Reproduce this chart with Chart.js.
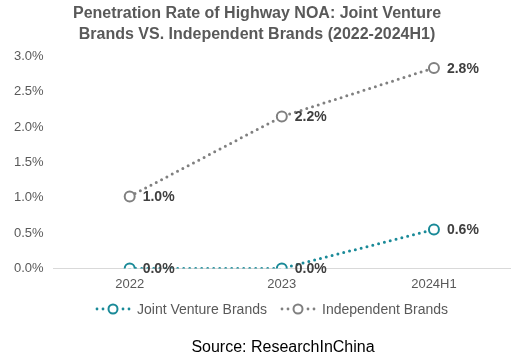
<!DOCTYPE html>
<html>
<head>
<meta charset="utf-8">
<script src="https://cdn.jsdelivr.net/npm/chart.js@4/dist/chart.umd.min.js"></script>
<style>
  html, body { margin: 0; padding: 0; background: #fff; }
  #wrap { width: 521px; height: 362px; position: relative; }
</style>
</head>
<body>
<div id="wrap"><canvas id="noaChart" width="521" height="362"></canvas></div>
<script>
// Data (percent)
const categories = ['2022', '2023', '2024H1'];
const jointVenture = [0.0, 0.0, 0.55];
const independent = [1.02, 2.15, 2.84];
const jvLabels = ['0.0%', '0.0%', '0.6%'];
const indLabels = ['1.0%', '2.2%', '2.8%'];
const seriesNames = ['Joint Venture Brands', 'Independent Brands'];

const FONT = "'Liberation Sans', Arial, sans-serif";
const TEAL = '#1a8a98';
const GREY = '#808080';

// Value labels to the right of each point
const valueLabels = {
    id: 'valueLabels',
    afterDatasetsDraw(chart) {
        const ctx = chart.ctx;
        const texts = [jvLabels, indLabels];
        ctx.save();
        ctx.font = 'bold 14px ' + FONT;
        ctx.fillStyle = '#404040';
        ctx.textBaseline = 'middle';
        ctx.textAlign = 'left';
        chart.data.datasets.forEach((ds, i) => {
            chart.getDatasetMeta(i).data.forEach((pt, j) => {
                ctx.fillText(texts[i][j], pt.x + 13, pt.y + 1);
            });
        });
        ctx.restore();
    }
};

// Legend and source line at the bottom
const bottomLegend = {
    id: 'bottomLegend',
    afterDraw(chart) {
        const ctx = chart.ctx;
        const items = [
            { x: 113, color: TEAL, text: seriesNames[0] },
            { x: 298, color: GREY, text: seriesNames[1] }
        ];
        const y = 309;
        ctx.save();
        items.forEach(it => {
            ctx.fillStyle = it.color;
            [-16, -10, 10, 16].forEach(dx => {
                ctx.beginPath();
                ctx.arc(it.x + dx, y, 1.4, 0, Math.PI * 2);
                ctx.fill();
            });
            ctx.beginPath();
            ctx.arc(it.x, y, 4.5, 0, Math.PI * 2);
            ctx.fillStyle = '#fff';
            ctx.fill();
            ctx.lineWidth = 2;
            ctx.strokeStyle = it.color;
            ctx.stroke();
            ctx.font = '14px ' + FONT;
            ctx.fillStyle = '#595959';
            ctx.textBaseline = 'middle';
            ctx.fillText(it.text, it.x + 24, y + 1);
        });
        ctx.font = '16px ' + FONT;
        ctx.fillStyle = '#000';
        ctx.textAlign = 'center';
        ctx.fillText('Source: ResearchInChina', 283, 348);
        ctx.restore();
    }
};

function makeSet(label, data, color) {
    return {
        label: label,
        data: data,
        borderColor: color,
        borderWidth: 3,
        borderDash: [0, 6],
        borderCapStyle: 'round',
        pointRadius: 5,
        pointBorderWidth: 2,
        pointBackgroundColor: '#fff',
        pointBorderColor: color,
        fill: false,
        tension: 0
    };
}

const ctx = document.getElementById('noaChart').getContext('2d');
const noaChart = new Chart(ctx, {
    type: 'line',
    data: {
        labels: categories,
        datasets: [
            makeSet(seriesNames[0], jointVenture, TEAL),
            makeSet(seriesNames[1], independent, GREY)
        ]
    },
    options: {
        responsive: false,
        animation: false,
        layout: { padding: { left: 4, right: 11, top: 0, bottom: 62 } },
        plugins: {
            legend: { display: false },
            tooltip: { enabled: false },
            title: {
                display: true,
                text: ['Penetration Rate of Highway NOA: Joint Venture', 'Brands VS. Independent Brands (2022-2024H1)'],
                color: '#595959',
                font: { family: FONT, size: 16, weight: 'bold', lineHeight: 1.3 },
                padding: { top: 3, bottom: 12 }
            }
        },
        scales: {
            x: {
                offset: true,
                grid: { display: false, drawTicks: false },
                border: { color: '#d9d9d9', width: 1 },
                ticks: { color: '#595959', font: { family: FONT, size: 13 }, padding: 8 }
            },
            y: {
                min: 0,
                max: 3,
                grid: { display: false, drawTicks: false },
                border: { display: false },
                ticks: {
                    stepSize: 0.5,
                    color: '#595959',
                    font: { family: FONT, size: 13 },
                    padding: 10,
                    callback: v => v.toFixed(1) + '%'
                }
            }
        }
    },
    plugins: [valueLabels, bottomLegend]
});
</script>
</body>
</html>
